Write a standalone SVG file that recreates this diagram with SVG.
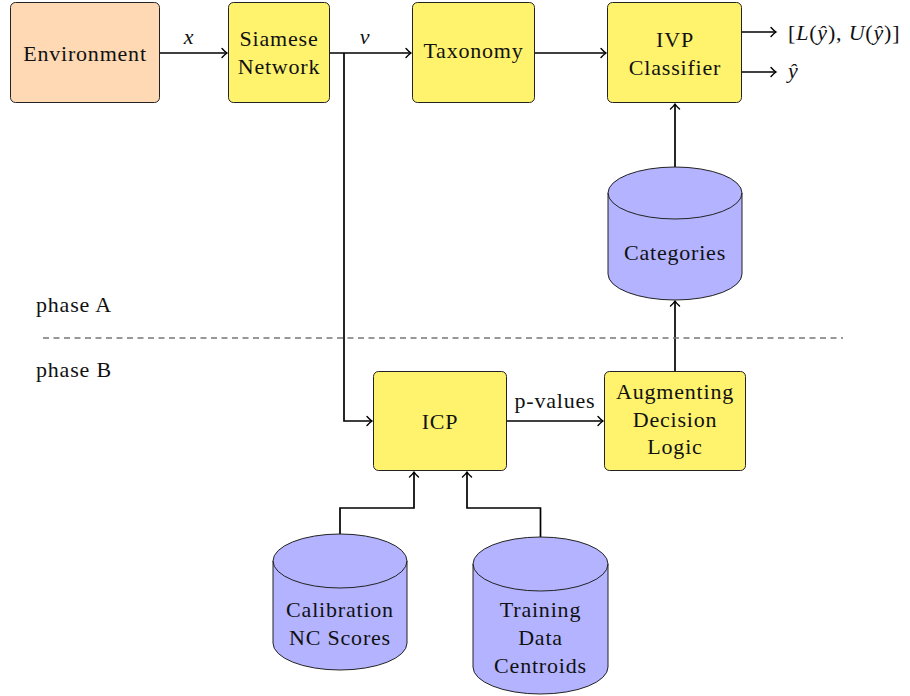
<svg xmlns="http://www.w3.org/2000/svg" width="910" height="696" viewBox="0 0 910 696" font-family="'Liberation Serif', 'Times New Roman', Tinos, 'DejaVu Serif', 'Noto Serif', serif">
<defs>
<style>
.box{stroke:#222;stroke-width:1;}
.yel{fill:#FFF36E;}
.peach{fill:#FFD9B3;}
.cyl{fill:#B3B3FF;stroke:#222;stroke-width:1;}
text{font-family:'Liberation Serif','Times New Roman',Tinos,'DejaVu Serif','Noto Serif',serif;font-size:22px;fill:#111;letter-spacing:0.8px;}
.c{text-anchor:middle;}
.m{font-style:italic;}
.edge{fill:none;stroke:#000;stroke-width:1.7;marker-end:url(#arr);}
.dash{fill:none;stroke:#777;stroke-width:1.3;stroke-dasharray:6 4.5;}
</style>
<marker id="arr" viewBox="-7 -6 9 12" markerWidth="9" markerHeight="12" refX="0" refY="0" orient="auto" markerUnits="userSpaceOnUse">
<path d="M-5,-4.5 Q-2,-1.2 0,0 Q-2,1.2 -5,4.5" fill="none" stroke="#000" stroke-width="1.4" stroke-linecap="round"/>
</marker>
</defs>
<rect width="910" height="696" fill="#fff"/>

<g id="connectors">
<path class="edge" d="M160,53 H227"/>
<path class="edge" d="M330,53 H411"/>
<path class="edge" d="M344,53 V421 H372"/>
<path class="edge" d="M535,53 H606"/>
<path class="edge" d="M742,32 H776"/>
<path class="edge" d="M742,72 H776"/>
<path class="edge" d="M675,167 V104"/>
<path class="edge" d="M675,371 V301"/>
<path class="edge" d="M507,421 H603"/>
<path class="edge" d="M340,534 V508 H414 V472"/>
<path class="edge" d="M540.5,537 V508 H467 V472"/>
<text class="c m" x="189" y="44">x</text>
<text class="c m" x="365" y="44">v</text>
<text class="c" x="555" y="408">p-values</text>
</g>

<g id="phase-divider">
<path class="dash" d="M43,338 H843"/>
<text x="36" y="312">phase A</text>
<text x="36" y="377">phase B</text>
</g>

<g id="environment">
<rect class="box peach" x="10.5" y="2.5" width="149" height="100" rx="5"/>
<text class="c" x="85" y="61">Environment</text>
</g>

<g id="siamese">
<rect class="box yel" x="228.5" y="2.5" width="101" height="100" rx="5"/>
<text class="c" x="279" y="46">Siamese</text>
<text class="c" x="279" y="74">Network</text>
</g>

<g id="taxonomy">
<rect class="box yel" x="412.5" y="2.5" width="122" height="100" rx="5"/>
<text class="c" x="473.5" y="58">Taxonomy</text>
</g>

<g id="ivp">
<rect class="box yel" x="607.5" y="2.5" width="134" height="100" rx="5"/>
<text class="c" x="675" y="47">IVP</text>
<text class="c" x="675" y="75">Classifier</text>
</g>

<g id="outputs">
<text x="788" y="40">[<tspan class="m">L</tspan>(<tspan class="m">ŷ</tspan>), <tspan class="m">U</tspan>(<tspan class="m">ŷ</tspan>)]</text>
<text class="m" x="788" y="78">ŷ</text>
</g>

<g id="categories">
<path class="cyl" d="M608,193 A67,26 0 0 1 742,193 V274 A67,26 0 0 1 608,274 Z"/>
<path class="cyl" d="M608,193 A67,26 0 0 0 742,193" style="fill:none"/>
<text class="c" x="675" y="260">Categories</text>
</g>

<g id="icp">
<rect class="box yel" x="373.5" y="371.5" width="133" height="99" rx="5"/>
<text class="c" x="440" y="429">ICP</text>
</g>

<g id="augmenting">
<rect class="box yel" x="604.5" y="371.5" width="141" height="99" rx="5"/>
<text class="c" x="675" y="399">Augmenting</text>
<text class="c" x="675" y="427">Decision</text>
<text class="c" x="675" y="454">Logic</text>
</g>

<g id="calibration">
<path class="cyl" d="M273,561 A67,27 0 0 1 407,561 V643 A67,27 0 0 1 273,643 Z"/>
<path class="cyl" d="M273,561 A67,27 0 0 0 407,561" style="fill:none"/>
<text class="c" x="340" y="617">Calibration</text>
<text class="c" x="340" y="645">NC Scores</text>
</g>

<g id="training">
<path class="cyl" d="M473,564 A67.5,27 0 0 1 608,564 V667 A67.5,27 0 0 1 473,667 Z"/>
<path class="cyl" d="M473,564 A67.5,27 0 0 0 608,564" style="fill:none"/>
<text class="c" x="540.5" y="617">Training</text>
<text class="c" x="540.5" y="645">Data</text>
<text class="c" x="540.5" y="673">Centroids</text>
</g>
</svg>
